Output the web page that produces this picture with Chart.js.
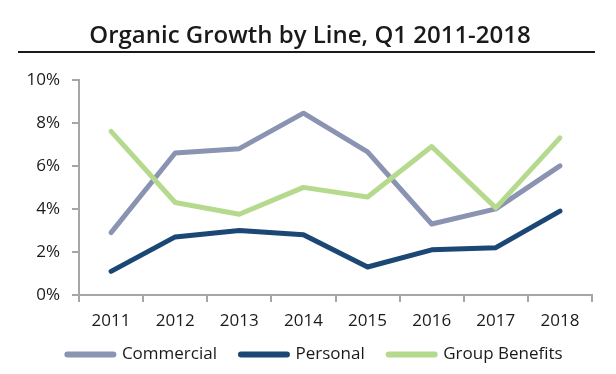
<!DOCTYPE html>
<html>
<head>
<meta charset="utf-8">
<script src="https://cdn.jsdelivr.net/npm/chart.js@4.4.1/dist/chart.umd.min.js"></script>
<style>
  html, body { margin: 0; padding: 0; background: #ffffff; }
  #wrap { width: 616px; height: 374px; }
</style>
</head>
<body>
<div id="wrap"><canvas id="c" width="616" height="374"></canvas></div>
<script>
const categories = ['2011', '2012', '2013', '2014', '2015', '2016', '2017', '2018'];
const commercial = [2.9, 6.6, 6.8, 8.45, 6.65, 3.3, 4.0, 6.0];
const personal = [1.1, 2.7, 3.0, 2.8, 1.3, 2.1, 2.2, 3.9];
const groupBenefits = [7.6, 4.3, 3.75, 5.0, 4.55, 6.9, 4.05, 7.3];
const yTicks = [0, 2, 4, 6, 8, 10];

const FONT = "'Open Sans', 'Liberation Sans', sans-serif";
const AXIS = '#a6a6a6';
const TEXT = '#1a1a1a';

const titleRule = {
  id: 'titleRule',
  afterDraw(chart) {
    const ctx = chart.ctx;
    ctx.save();
    ctx.strokeStyle = '#1a1a1a';
    ctx.lineWidth = 2;
    ctx.beginPath();
    ctx.moveTo(18, 52);
    ctx.lineTo(595, 52);
    ctx.stroke();
    ctx.restore();
  }
};

// move the legend row up a little (closer to the axis labels) and slightly right
const legendNudge = {
  id: 'legendNudge',
  afterLayout(chart) {
    const lg = chart.legend;
    if (lg) { lg.top -= 9; lg.bottom -= 9; lg.left += 5; lg.right += 5; }
  }
};

new Chart(document.getElementById('c'), {
  type: 'line',
  data: {
    labels: categories,
    datasets: [
      { label: 'Commercial', data: commercial, borderColor: '#8a94b2', backgroundColor: '#8a94b2', order: 1 },
      { label: 'Personal', data: personal, borderColor: '#1b4774', backgroundColor: '#1b4774', order: 2 },
      { label: 'Group Benefits', data: groupBenefits, borderColor: '#b6da8d', backgroundColor: '#b6da8d', order: 0 }
    ]
  },
  options: {
    responsive: false,
    animation: false,
    devicePixelRatio: 1,
    elements: {
      line: { borderWidth: 5, tension: 0, borderCapStyle: 'round', borderJoinStyle: 'round' },
      point: { radius: 0, hoverRadius: 0, borderWidth: 6 }
    },
    layout: { padding: { left: 28, right: 24, top: 0, bottom: -8 } },
    plugins: {
      title: {
        display: true,
        text: 'Organic Growth by Line, Q1 2011-2018',
        color: TEXT,
        font: { family: FONT, size: 24, weight: 600 },
        padding: { top: 22, bottom: 29 }
      },
      legend: {
        position: 'bottom',
        labels: {
          color: TEXT,
          font: { family: FONT, size: 17 },
          usePointStyle: true,
          pointStyle: 'line',
          pointStyleWidth: 46,
          boxHeight: 6,
          padding: 24,
          sort: (a, b) => a.datasetIndex - b.datasetIndex,
          generateLabels(chart) {
            return Chart.defaults.plugins.legend.labels.generateLabels(chart)
              .map(l => Object.assign(l, { lineCap: 'round', lineWidth: 6 }));
          }
        }
      },
      tooltip: { enabled: false }
    },
    scales: {
      x: {
        offset: true,
        afterFit(scale) { scale.height = 36; },
        grid: { offset: true, drawOnChartArea: false, color: AXIS, lineWidth: 2, tickLength: 7 },
        border: { color: AXIS, width: 2 },
        ticks: { color: TEXT, font: { family: FONT, size: 17 }, padding: 9, maxRotation: 0 }
      },
      y: {
        min: 0,
        max: 10,
        afterFit(scale) { scale.width = 51; },
        afterBuildTicks(scale) { scale.ticks = yTicks.map(v => ({ value: v })); },
        grid: { drawOnChartArea: false, color: AXIS, lineWidth: 2, tickLength: 7 },
        border: { color: AXIS, width: 2 },
        ticks: { color: TEXT, font: { family: FONT, size: 17 }, padding: 12, callback: v => v + '%' }
      }
    }
  },
  plugins: [titleRule, legendNudge]
});
</script>
</body>
</html>
